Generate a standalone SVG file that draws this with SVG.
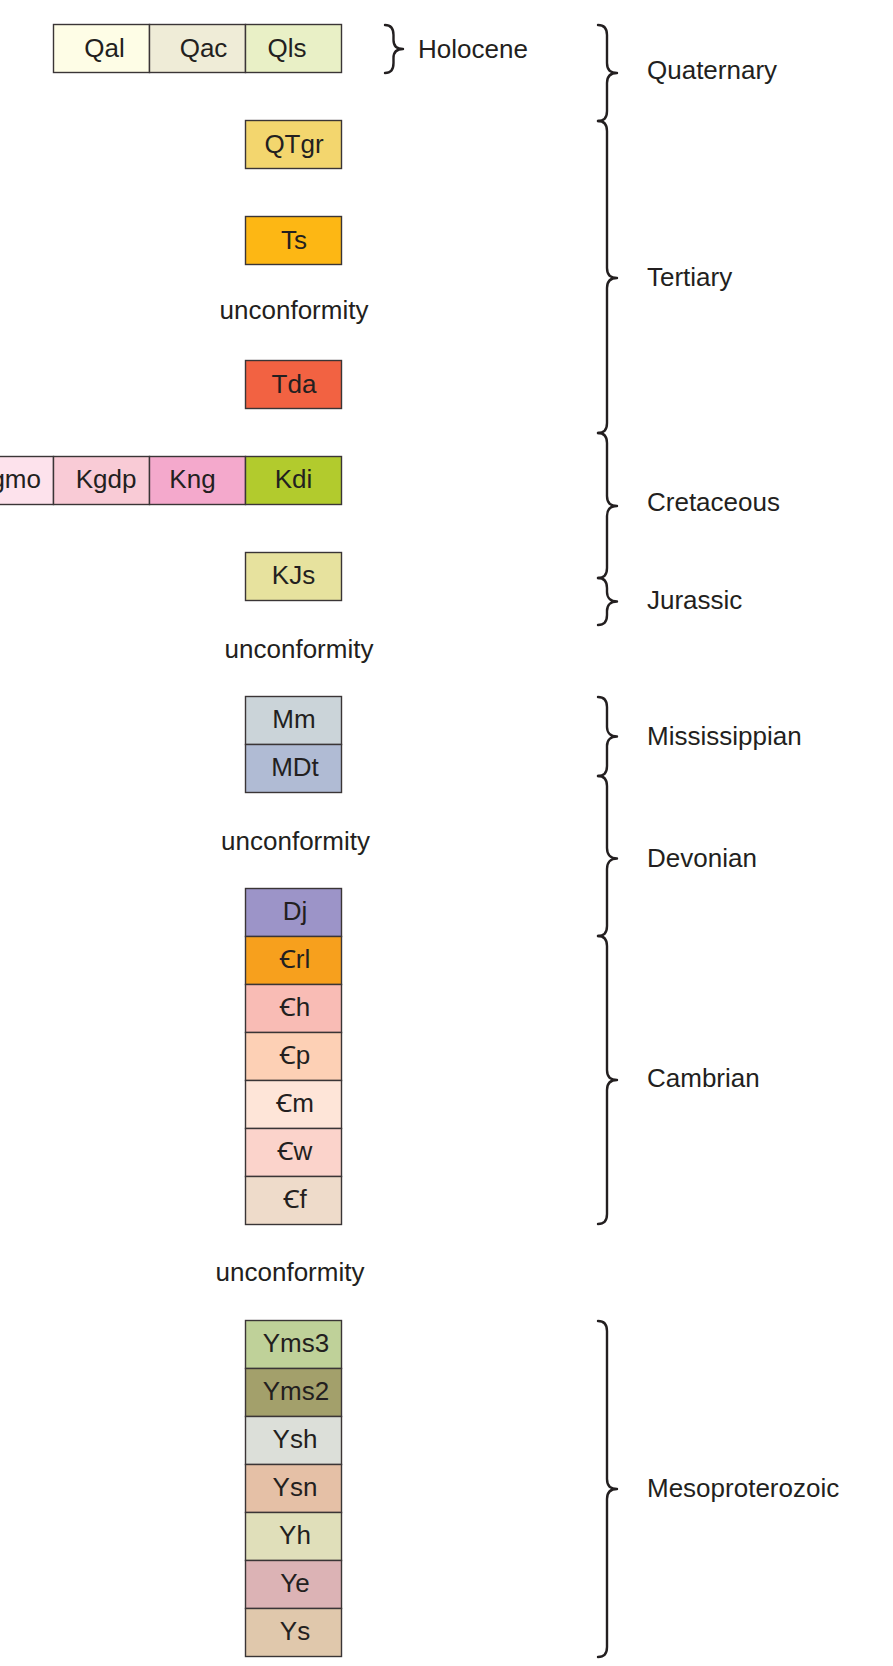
<svg xmlns="http://www.w3.org/2000/svg" width="893" height="1666" viewBox="0 0 893 1666">
<style>
.b{stroke:#3a3536;stroke-width:1.4}
.t{font-family:"Liberation Sans","DejaVu Sans","Noto Sans",sans-serif;font-size:26px;fill:#231f20}
.m{text-anchor:middle}
.br{fill:none;stroke:#231f20;stroke-width:2.4;stroke-linejoin:round;stroke-linecap:round}
</style>
<rect width="893" height="1666" fill="#ffffff"/>
<g id="row-Q">
<rect class="b" x="53.5" y="24.5" width="96" height="48" fill="#fefde6"/>
<rect class="b" x="149.5" y="24.5" width="96" height="48" fill="#efecd7"/>
<rect class="b" x="245.5" y="24.5" width="96" height="48" fill="#e9f0c6"/>
<text class="t m" x="104.5" y="57">Qal</text>
<text class="t m" x="203.5" y="57">Qac</text>
<text class="t m" x="287" y="57">Qls</text>
</g>
<g id="QTgr"><rect class="b" x="245.5" y="120.5" width="96" height="48" fill="#f3d66e"/><text class="t m" x="294" y="153">QTgr</text></g>
<g id="Ts"><rect class="b" x="245.5" y="216.5" width="96" height="48" fill="#fdb714"/><text class="t m" x="294" y="249">Ts</text></g>
<g id="unc1"><text class="t m" x="294" y="319">unconformity</text></g>
<g id="Tda"><rect class="b" x="245.5" y="360.5" width="96" height="48" fill="#f26242"/><text class="t m" x="294" y="393">Tda</text></g>
<g id="row-K">
<rect class="b" x="-42.5" y="456.5" width="96" height="48" fill="#fde2ec"/>
<rect class="b" x="53.5" y="456.5" width="96" height="48" fill="#f9cbd6"/>
<rect class="b" x="149.5" y="456.5" width="96" height="48" fill="#f4a9cc"/>
<rect class="b" x="245.5" y="456.5" width="96" height="48" fill="#b2cb2d"/>
<text class="t m" x="7" y="488">Kgmo</text>
<text class="t m" x="106" y="488">Kgdp</text>
<text class="t m" x="192.5" y="488">Kng</text>
<text class="t m" x="293.5" y="488">Kdi</text>
</g>
<g id="KJs"><rect class="b" x="245.5" y="552.5" width="96" height="48" fill="#e7e29e"/><text class="t m" x="293.5" y="584">KJs</text></g>
<g id="unc2"><text class="t m" x="299" y="658">unconformity</text></g>
<g id="Mm"><rect class="b" x="245.5" y="696.5" width="96" height="48" fill="#cbd4d9"/><text class="t m" x="294" y="728">Mm</text></g>
<g id="MDt"><rect class="b" x="245.5" y="744.5" width="96" height="48" fill="#b0bbd4"/><text class="t m" x="295" y="776">MDt</text></g>
<g id="unc3"><text class="t m" x="295.5" y="850">unconformity</text></g>
<g id="Dj"><rect class="b" x="245.5" y="888.5" width="96" height="48" fill="#9c94c8"/><text class="t m" x="295" y="920">Dj</text></g>
<g id="Crl"><rect class="b" x="245.5" y="936.5" width="96" height="48" fill="#f7a01d"/><text class="t m" x="295" y="968">Ꞓrl</text></g>
<g id="Ch"><rect class="b" x="245.5" y="984.5" width="96" height="48" fill="#f9bcb5"/><text class="t m" x="295" y="1016">Ꞓh</text></g>
<g id="Cp"><rect class="b" x="245.5" y="1032.5" width="96" height="48" fill="#fdd0b5"/><text class="t m" x="295" y="1064">Ꞓp</text></g>
<g id="Cm"><rect class="b" x="245.5" y="1080.5" width="96" height="48" fill="#fee5d8"/><text class="t m" x="295" y="1112">Ꞓm</text></g>
<g id="Cw"><rect class="b" x="245.5" y="1128.5" width="96" height="48" fill="#fbd3cb"/><text class="t m" x="295" y="1160">Ꞓw</text></g>
<g id="Cf"><rect class="b" x="245.5" y="1176.5" width="96" height="48" fill="#eedbca"/><text class="t m" x="295" y="1208">Ꞓf</text></g>
<g id="unc4"><text class="t m" x="290" y="1281">unconformity</text></g>
<g id="Yms3"><rect class="b" x="245.5" y="1320.5" width="96" height="48" fill="#bfd199"/><text class="t m" x="296" y="1352">Yms3</text></g>
<g id="Yms2"><rect class="b" x="245.5" y="1368.5" width="96" height="48" fill="#a3a06b"/><text class="t m" x="296" y="1400">Yms2</text></g>
<g id="Ysh"><rect class="b" x="245.5" y="1416.5" width="96" height="48" fill="#dcdfd9"/><text class="t m" x="295" y="1448">Ysh</text></g>
<g id="Ysn"><rect class="b" x="245.5" y="1464.5" width="96" height="48" fill="#e5c0a6"/><text class="t m" x="295" y="1496">Ysn</text></g>
<g id="Yh"><rect class="b" x="245.5" y="1512.5" width="96" height="48" fill="#e0dfba"/><text class="t m" x="295" y="1544">Yh</text></g>
<g id="Ye"><rect class="b" x="245.5" y="1560.5" width="96" height="48" fill="#dcb3b5"/><text class="t m" x="295" y="1592">Ye</text></g>
<g id="Ys"><rect class="b" x="245.5" y="1608.5" width="96" height="48" fill="#e0c8ac"/><text class="t m" x="295" y="1640">Ys</text></g>
<g id="braces">
<path class="br" d="M385,25 C391,25 393.5,28 393.5,35 L393.5,40 C393.5,46 397,49 403,49 C397,49 393.5,52 393.5,58 L393.5,63 C393.5,70 391,73 385,73"/>
<path class="br" d="M598,25 C604,25 607,28 607,35 L607,63 C607,70 611,73 617,73 C611,73 607,76 607,83 L607,111 C607,118 604,121 598,121"/>
<path class="br" d="M598,121 C604,121 607,124 607,131 L607,268 C607,275 611,278 617,278 C611,278 607,281 607,288 L607,423 C607,430 604,433 598,433"/>
<path class="br" d="M598,433 C604,433 607,436 607,443 L607,496 C607,503 611,506 617,506 C611,506 607,509 607,516 L607,568 C607,575 604,578 598,578"/>
<path class="br" d="M598,578 C604,578 607,581 607,588 L607,592 C607,598 611,601.5 617,601.5 C611,601.5 607,605 607,611 L607,615 C607,622 604,625 598,625"/>
<path class="br" d="M598,697 C604,697 607,700 607,707 L607,727 C607,733 611,736.5 617,736.5 C611,736.5 607,740 607,746 L607,766 C607,773 604,776 598,776"/>
<path class="br" d="M598,776 C604,776 607,779 607,786 L607,848 C607,855 611,858.5 617,858.5 C611,858.5 607,862 607,869 L607,926 C607,933 604,936 598,936"/>
<path class="br" d="M598,936 C604,936 607,939 607,946 L607,1070 C607,1077 611,1080 617,1080 C611,1080 607,1083 607,1090 L607,1214 C607,1221 604,1224 598,1224"/>
<path class="br" d="M598,1321 C604,1321 607,1324 607,1331 L607,1479 C607,1486 611,1489 617,1489 C611,1489 607,1492 607,1499 L607,1647 C607,1654 604,1657 598,1657"/>
</g>
<g id="labels">
<text class="t" x="418" y="58">Holocene</text>
<text class="t" x="647" y="79">Quaternary</text>
<text class="t" x="647" y="286">Tertiary</text>
<text class="t" x="647" y="511">Cretaceous</text>
<text class="t" x="647" y="608.5">Jurassic</text>
<text class="t" x="647" y="745">Mississippian</text>
<text class="t" x="647" y="867">Devonian</text>
<text class="t" x="647" y="1087">Cambrian</text>
<text class="t" x="647" y="1497">Mesoproterozoic</text>
</g>
</svg>
